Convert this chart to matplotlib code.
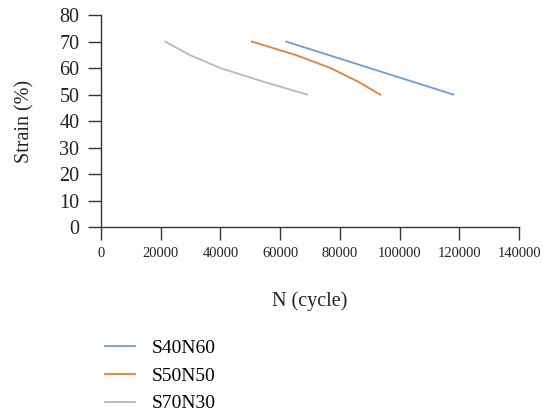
import matplotlib
matplotlib.use("Agg")
import matplotlib.pyplot as plt

plt.rcParams['font.family'] = ['Liberation Serif', 'DejaVu Serif']

# data (N in cycles, strain in %)
n_s40n60 = [62000, 76000, 90000, 104000, 118000]
strain_s40n60 = [70, 65, 60, 55, 50]

n_s50n50 = [50500, 65100, 76900, 85900, 93500]
strain_s50n50 = [70, 65, 60, 55, 50]

n_s70n30 = [21500, 29600, 40000, 54000, 69000]
strain_s70n30 = [70, 65, 60, 55, 50]

x_ticks = [0, 20000, 40000, 60000, 80000, 100000, 120000, 140000]
y_ticks = [0, 10, 20, 30, 40, 50, 60, 70, 80]

fig = plt.figure(figsize=(5.43, 4.19), dpi=100)
ax = fig.add_axes([0.186, 0.458, 0.770, 0.506])

ax.plot(n_s40n60, strain_s40n60, color='#6a9fd8', lw=1.3, label='S40N60')
ax.plot(n_s50n50, strain_s50n50, color='#ed7d31', lw=1.3, label='S50N50')
ax.plot(n_s70n30, strain_s70n30, color='#b8b8b8', lw=1.3, label='S70N30')

ax.set_xlim(0, 140000)
ax.set_ylim(0, 80)
ax.set_xticks(x_ticks)
ax.set_yticks(y_ticks)
ax.set_xticklabels([str(v) for v in x_ticks], fontsize=10.5)
ax.set_yticklabels([str(v) for v in y_ticks], fontsize=14.5)

for s in ['top', 'right']:
    ax.spines[s].set_visible(False)
for s in ['left', 'bottom']:
    ax.spines[s].set_color('#333333')
    ax.spines[s].set_linewidth(1.0)
ax.tick_params(axis='both', direction='out', length=9.5, width=1.0,
               color='#333333', labelcolor='#222222')
ax.tick_params(axis='x', pad=5)
ax.tick_params(axis='y', pad=6)

ax.set_xlabel('N (cycle)', fontsize=14.5, labelpad=22, color='#222222')
ax.set_ylabel('Strain (%)', fontsize=14.5, labelpad=18, color='#222222')

fig.legend(loc='upper left', bbox_to_anchor=(0.161, 0.232), frameon=False,
           fontsize=14, handlelength=1.55, handletextpad=0.85, labelspacing=0.52)

fig.savefig('out.png', dpi=100)
